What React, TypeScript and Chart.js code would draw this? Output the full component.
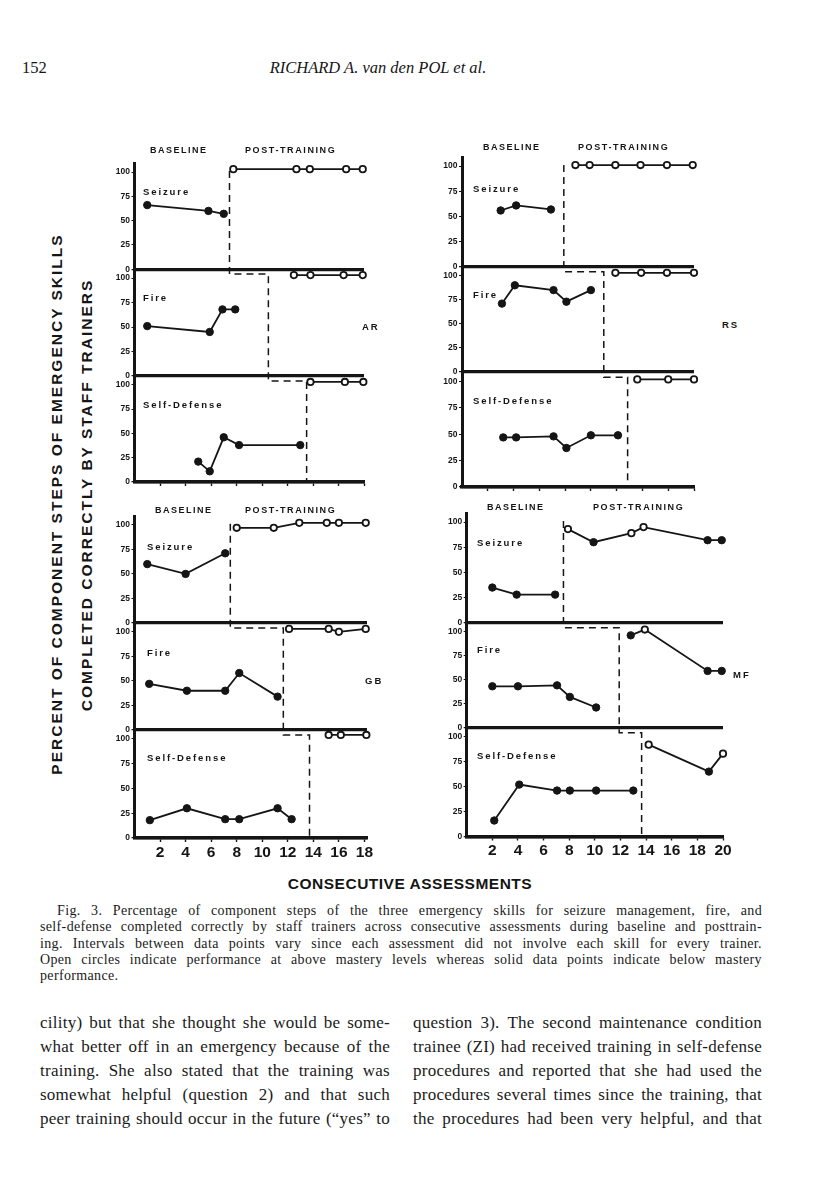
import React, { useEffect, useRef } from 'react';
import { Chart, registerables } from 'chart.js';
Chart.register(...registerables);

const INK = '#151515';
const SANS = '"Liberation Sans", Arial, Helvetica, sans-serif';
const SERIF = '"Liberation Serif", "Times New Roman", serif';

// ---------- tick labels ----------
const yTicks = [0, 25, 50, 75, 100];
const xTicks18 = [2, 4, 6, 8, 10, 12, 14, 16, 18];
const xTicks20 = [2, 4, 6, 8, 10, 12, 14, 16, 18, 20];
const skillNames = ['Seizure', 'Fire', 'Self-Defense'];

// ---------- AR ----------
const arSzBaseX = [1, 5.8, 7];
const arSzBaseY = [66, 60, 57];
const arSzPostX = [7.75, 12.7, 13.75, 16.6, 17.9];
const arSzPostY = [103, 103, 103, 103, 103];
const arFiBaseX = [1, 5.9, 6.9, 7.9];
const arFiBaseY = [51, 45, 68, 68];
const arFiPostX = [12.5, 13.8, 16.4, 17.9];
const arFiPostY = [103, 103, 103, 103];
const arSdBaseX = [5, 5.9, 7, 8.2, 13];
const arSdBaseY = [21, 11, 46, 38, 38];
const arSdPostX = [13.8, 16.5, 17.95];
const arSdPostY = [103, 103, 103];
const arPhase = [7.45, 10.5, 13.5];

// ---------- RS ----------
const rsSzBaseX = [3, 4.2, 6.9];
const rsSzBaseY = [56, 61, 57];
const rsSzPostX = [8.8, 9.9, 11.9, 13.85, 15.9, 17.9];
const rsSzPostY = [101, 101, 101, 101, 101, 101];
const rsFiBaseX = [3.1, 4.1, 7.1, 8.1, 10];
const rsFiBaseY = [71, 90, 85, 73, 85];
const rsFiPostX = [11.9, 13.9, 15.9, 18];
const rsFiPostY = [103, 103, 103, 103];
const rsSdBaseX = [3.2, 4.2, 7.1, 8.1, 10, 12.1];
const rsSdBaseY = [47, 47, 48, 37, 49, 49];
const rsSdPostX = [13.6, 16, 18];
const rsSdPostY = [102, 102, 102];
const rsPhase = [7.9, 11, 12.85];

// ---------- GB ----------
const gbSzBaseX = [1, 4, 7.1];
const gbSzBaseY = [60, 50, 71];
const gbSzPostX = [8, 10.9, 12.9, 15.05, 16, 18.1];
const gbSzPostY = [97, 97, 102, 102, 102, 102];
const gbFiBaseX = [1.15, 4.1, 7.1, 8.2, 11.2];
const gbFiBaseY = [47, 40, 40, 58, 34];
const gbFiPostX = [12.1, 15.2, 16, 18.1];
const gbFiPostY = [103, 103, 100, 103];
const gbSdBaseX = [1.2, 4.1, 7.1, 8.2, 11.2, 12.3];
const gbSdBaseY = [18, 30, 19, 19, 30, 19];
const gbSdPostX = [15.2, 16.15, 18.15];
const gbSdPostY = [104, 104, 104];
const gbPhase = [7.5, 11.65, 13.7];

// ---------- MF ----------
const mfSzBaseX = [2, 3.9, 6.9];
const mfSzBaseY = [35, 28, 28];
const mfSzPostX = [7.9, 9.9, 12.85, 13.8, 18.8, 19.9];
const mfSzPostY = [93, 80, 89, 95, 82, 82];
const mfSzPostOpen = [true, false, true, true, false, false];
const mfFiBaseX = [2, 4, 7.05, 8.05, 10.1];
const mfFiBaseY = [43, 43, 44, 32, 21];
const mfFiPostX = [12.8, 13.9, 18.8, 19.9];
const mfFiPostY = [96, 102, 59, 59];
const mfFiPostOpen = [false, true, false, false];
const mfSdBaseX = [2.15, 4.1, 7.05, 8.05, 10.1, 13];
const mfSdBaseY = [16, 52, 46, 46, 46, 46];
const mfSdPostX = [14.2, 18.9, 20];
const mfSdPostY = [92, 65, 83];
const mfSdPostOpen = [true, false, true];
const mfPhase = [7.55, 11.9, 13.65];

type Panel = { bx: number[]; by: number[]; px: number[]; py: number[]; open: boolean[] };
const allOpen = (n: number) => Array.from({ length: n }, () => true);
const panel = (bx: number[], by: number[], px: number[], py: number[], open?: boolean[]): Panel => ({
  bx, by, px, py, open: open || allOpen(px.length),
});

type Geo = {
  areaLeft: number; areaRight: number; areaTop: number; areaBottom: number;
  xMax: number; weights: number[]; xLabels: boolean; xTicks: number[];
};

const quadrants: { key: string; panels: Panel[]; phase: number[]; geo: Geo }[] = [
  {
    key: 'AR',
    panels: [
      panel(arSzBaseX, arSzBaseY, arSzPostX, arSzPostY),
      panel(arFiBaseX, arFiBaseY, arFiPostX, arFiPostY),
      panel(arSdBaseX, arSdBaseY, arSdPostX, arSdPostY),
    ],
    phase: arPhase,
    geo: { areaLeft: 134.5, areaRight: 364, areaTop: 163.3, areaBottom: 482, xMax: 18, weights: [106, 107, 106], xLabels: false, xTicks: xTicks18 },
  },
  {
    key: 'RS',
    panels: [
      panel(rsSzBaseX, rsSzBaseY, rsSzPostX, rsSzPostY),
      panel(rsFiBaseX, rsFiBaseY, rsFiPostX, rsFiPostY),
      panel(rsSdBaseX, rsSdBaseY, rsSdPostX, rsSdPostY),
    ],
    phase: rsPhase,
    geo: { areaLeft: 462, areaRight: 694, areaTop: 157, areaBottom: 487, xMax: 18, weights: [110, 105, 115], xLabels: false, xTicks: xTicks18 },
  },
  {
    key: 'GB',
    panels: [
      panel(gbSzBaseX, gbSzBaseY, gbSzPostX, gbSzPostY),
      panel(gbFiBaseX, gbFiBaseY, gbFiPostX, gbFiPostY),
      panel(gbSdBaseX, gbSdBaseY, gbSdPostX, gbSdPostY),
    ],
    phase: gbPhase,
    geo: { areaLeft: 134.5, areaRight: 367, areaTop: 516, areaBottom: 838, xMax: 18.2, weights: [107, 107, 108], xLabels: true, xTicks: xTicks18 },
  },
  {
    key: 'MF',
    panels: [
      panel(mfSzBaseX, mfSzBaseY, mfSzPostX, mfSzPostY, mfSzPostOpen),
      panel(mfFiBaseX, mfFiBaseY, mfFiPostX, mfFiPostY, mfFiPostOpen),
      panel(mfSdBaseX, mfSdBaseY, mfSdPostX, mfSdPostY, mfSdPostOpen),
    ],
    phase: mfPhase,
    geo: { areaLeft: 466.7, areaRight: 723, areaTop: 513, areaBottom: 836.5, xMax: 20, weights: [110, 105, 109], xLabels: true, xTicks: xTicks20 },
  },
];

const Y_IDS = ['ySz', 'yFi', 'ySd'];

const phasePlugin = {
  id: 'phaseLines',
  beforeDatasetsDraw(chart: any, _args: any, opts: any) {
    const xs: number[] = opts && opts.xs;
    if (!xs) return;
    const { ctx, scales } = chart;
    const X = scales.x, A = scales.ySz, B = scales.yFi, C = scales.ySd;
    const px = (v: number) => X.getPixelForValue(v);
    ctx.save();
    ctx.strokeStyle = INK;
    ctx.lineWidth = 1.5;
    ctx.setLineDash([7, 5]);
    ctx.beginPath();
    ctx.moveTo(px(xs[0]), A.getPixelForValue(101));
    ctx.lineTo(px(xs[0]), B.getPixelForValue(104));
    ctx.lineTo(px(xs[1]), B.getPixelForValue(104));
    ctx.lineTo(px(xs[1]), C.getPixelForValue(104));
    ctx.lineTo(px(xs[2]), C.getPixelForValue(104));
    ctx.lineTo(px(xs[2]), C.getPixelForValue(0));
    ctx.stroke();
    ctx.restore();
  },
};

function layoutFor(g: Geo) {
  const yW = 34;
  const canvasLeft = Math.floor(g.areaLeft - yW);
  const canvasTop = Math.floor(g.areaTop - 10);
  const xH = g.xLabels ? 24 : 5;
  const width = Math.ceil(g.areaRight + 14 - canvasLeft);
  const height = Math.ceil(g.areaBottom + xH + 8 - canvasTop);
  return {
    canvasLeft, canvasTop, width, height, xH,
    yWidth: g.areaLeft - canvasLeft,
    padTop: g.areaTop - canvasTop,
    padRight: canvasLeft + width - g.areaRight,
    padBottom: canvasTop + height - g.areaBottom - xH,
  };
}

function Quadrant({ q }: { q: (typeof quadrants)[number] }) {
  const ref = useRef<HTMLCanvasElement>(null);
  const L = layoutFor(q.geo);
  useEffect(() => {
    if (!ref.current) return;
    const g = q.geo;
    const datasets: any[] = [];
    q.panels.forEach((p, i) => {
      datasets.push({
        data: p.bx.map((x, k) => ({ x, y: p.by[k] })),
        xAxisID: 'x', yAxisID: Y_IDS[i],
        borderColor: INK, borderWidth: 1.8, tension: 0, fill: false, clip: false,
        pointRadius: 3.7, pointBackgroundColor: INK, pointBorderColor: INK, pointBorderWidth: 1,
      });
      datasets.push({
        data: p.px.map((x, k) => ({ x, y: p.py[k] })),
        xAxisID: 'x', yAxisID: Y_IDS[i],
        borderColor: INK, borderWidth: 1.8, tension: 0, fill: false, clip: false,
        pointRadius: p.open.map((o) => (o ? 3.2 : 3.7)),
        pointBackgroundColor: p.open.map((o) => (o ? '#ffffff' : INK)),
        pointBorderColor: INK,
        pointBorderWidth: p.open.map((o) => (o ? 1.8 : 1)),
      });
    });
    const yScale = (w: number) => ({
      type: 'linear', min: 0, max: 109, stack: 'panels', stackWeight: w, position: 'left',
      afterBuildTicks: (s: any) => { s.ticks = yTicks.map((v) => ({ value: v })); },
      afterFit: (s: any) => { s.width = L.yWidth; },
      ticks: { font: { family: SANS, size: 8.5, weight: 'bold' }, color: INK, padding: 1.5, autoSkip: false },
      grid: {
        drawOnChartArea: true,
        color: (c: any) => (c.tick && c.tick.value === 0 ? INK : 'rgba(0,0,0,0)'),
        lineWidth: (c: any) => (c.tick && c.tick.value === 0 ? 3.2 : 1),
        drawTicks: true, tickLength: 3, tickColor: INK, tickWidth: 1.2,
      },
      border: { display: true, color: INK, width: 3 },
    });
    const scales: any = {
      x: {
        type: 'linear', min: 0, max: g.xMax, position: 'bottom',
        afterBuildTicks: (s: any) => { s.ticks = g.xTicks.map((v) => ({ value: v })); },
        afterFit: (s: any) => { s.height = L.xH; },
        ticks: { display: g.xLabels, font: { family: SANS, size: 15.5, weight: 'bold' }, color: INK, padding: 1, maxRotation: 0, autoSkip: false },
        grid: { drawOnChartArea: false, drawTicks: true, tickLength: 4, tickColor: INK, tickWidth: 1.4, color: INK },
        border: { display: true, color: INK, width: 3.4 },
      },
    };
    // stacked axes are laid out bottom-up in definition order: define Self-Defense first
    [2, 1, 0].forEach((i) => { scales[Y_IDS[i]] = yScale(g.weights[i]); });
    const chart = new Chart(ref.current, {
      type: 'line',
      data: { datasets },
      options: {
        responsive: false, animation: false, devicePixelRatio: 1,
        layout: { padding: { left: 0, top: L.padTop, right: L.padRight, bottom: L.padBottom } },
        plugins: { legend: { display: false }, tooltip: { enabled: false }, phaseLines: { xs: q.phase } } as any,
        scales,
      },
      plugins: [phasePlugin as any],
    } as any);
    return () => chart.destroy();
  }, []);
  return (
    <canvas
      ref={ref}
      width={L.width}
      height={L.height}
      style={{ position: 'absolute', left: L.canvasLeft, top: L.canvasTop, width: L.width, height: L.height }}
    />
  );
}

function Txt({ x, y, text, size, weight = 700, family = SANS, ls = 0, italic = false, center = false }: any) {
  return (
    <div
      style={{
        position: 'absolute', left: x, top: y,
        transform: center ? 'translate(-50%,-50%)' : 'translateY(-50%)',
        fontFamily: family, fontSize: size, fontWeight: weight, fontStyle: italic ? 'italic' : 'normal',
        letterSpacing: ls, whiteSpace: 'nowrap', lineHeight: 1, color: INK,
      }}
    >
      {text}
    </div>
  );
}

function JLine({ x, y, w, text, size, ls = 0, justify = true }: any) {
  return (
    <div
      style={{
        position: 'absolute', left: x, top: y, width: w, transform: 'translateY(-50%)',
        display: 'flex', justifyContent: justify ? 'space-between' : 'flex-start', gap: justify ? 0 : '0.25em',
        fontFamily: SERIF, fontSize: size, letterSpacing: ls, lineHeight: 1, whiteSpace: 'nowrap', color: '#1a1a1a',
      }}
    >
      {text.split(' ').map((t: string, i: number) => <span key={i}>{t}</span>)}
    </div>
  );
}

const labelPos = [
  { by: 150, bx: 150, px: 245, sx: 143, sy: [192, 298, 405], subX: 362, subY: 327 },
  { by: 147, bx: 483, px: 578, sx: 473, sy: [189, 295, 401], subX: 722, subY: 325 },
  { by: 510, bx: 155, px: 245, sx: 147, sy: [547, 653, 758], subX: 365, subY: 681 },
  { by: 507, bx: 487, px: 593, sx: 477, sy: [543, 650, 756], subX: 733, subY: 675 },
];

const captionLines = [
  'Fig. 3. Percentage of component steps of the three emergency skills for seizure management, fire, and',
  'self-defense completed correctly by staff trainers across consecutive assessments during baseline and posttrain-',
  'ing. Intervals between data points vary since each assessment did not involve each skill for every trainer.',
  'Open circles indicate performance at above mastery levels whereas solid data points indicate below mastery',
  'performance.',
];
const leftCol = [
  'cility) but that she thought she would be some-',
  'what better off in an emergency because of the',
  'training. She also stated that the training was',
  'somewhat helpful (question 2) and that such',
  'peer training should occur in the future (\u201Cyes\u201D to',
];
const rightCol = [
  'question 3). The second maintenance condition',
  'trainee (ZI) had received training in self-defense',
  'procedures and reported that she had used the',
  'procedures several times since the training, that',
  'the procedures had been very helpful, and that',
];

export default function App() {
  return (
    <div style={{ position: 'absolute', left: 0, top: 0, width: 816, height: 1195, background: '#fff', overflow: 'hidden' }}>
      <Txt x={22} y={68} text="152" size={16.5} weight={400} family={SERIF} />
      <Txt x={378} y={68} text="RICHARD A. van den POL et al." size={16.5} weight={400} family={SERIF} italic center />

      {quadrants.map((q) => <Quadrant key={q.key} q={q} />)}

      {quadrants.map((q, i) => {
        const p = labelPos[i];
        return (
          <React.Fragment key={'lab' + q.key}>
            <Txt x={p.bx} y={p.by} text="BASELINE" size={9} ls={1.5} />
            <Txt x={p.px} y={p.by} text="POST-TRAINING" size={9} ls={1.6} />
            {skillNames.map((s, k) => <Txt key={s} x={p.sx} y={p.sy[k]} text={s} size={9.5} ls={1.9} />)}
            <Txt x={p.subX} y={p.subY} text={q.key} size={9.5} ls={2} />
          </React.Fragment>
        );
      })}

      <div style={{ position: 'absolute', left: 57, top: 504, transform: 'translate(-50%,-50%) rotate(-90deg)', fontFamily: SANS, fontWeight: 700, fontSize: 15.5, letterSpacing: 2, whiteSpace: 'nowrap', lineHeight: 1, color: INK }}>
        PERCENT OF COMPONENT STEPS OF EMERGENCY SKILLS
      </div>
      <div style={{ position: 'absolute', left: 87, top: 495, transform: 'translate(-50%,-50%) rotate(-90deg)', fontFamily: SANS, fontWeight: 700, fontSize: 15.5, letterSpacing: 2, whiteSpace: 'nowrap', lineHeight: 1, color: INK }}>
        COMPLETED CORRECTLY BY STAFF TRAINERS
      </div>

      <Txt x={410} y={884} text="CONSECUTIVE ASSESSMENTS" size={15.5} ls={0.5} center />

      {captionLines.map((t, i) => (
        <JLine key={'c' + i} x={i === 0 ? 57 : 40} y={911 + i * 16.3} w={i === 0 ? 705 : 722} text={t} size={14} ls={0.35} justify={i < 4} />
      ))}
      {leftCol.map((t, i) => (
        <JLine key={'l' + i} x={40} y={1022 + i * 24} w={350} text={t} size={17} ls={0.25} />
      ))}
      {rightCol.map((t, i) => (
        <JLine key={'r' + i} x={413} y={1022 + i * 24} w={349} text={t} size={17} ls={0.25} />
      ))}
    </div>
  );
}
